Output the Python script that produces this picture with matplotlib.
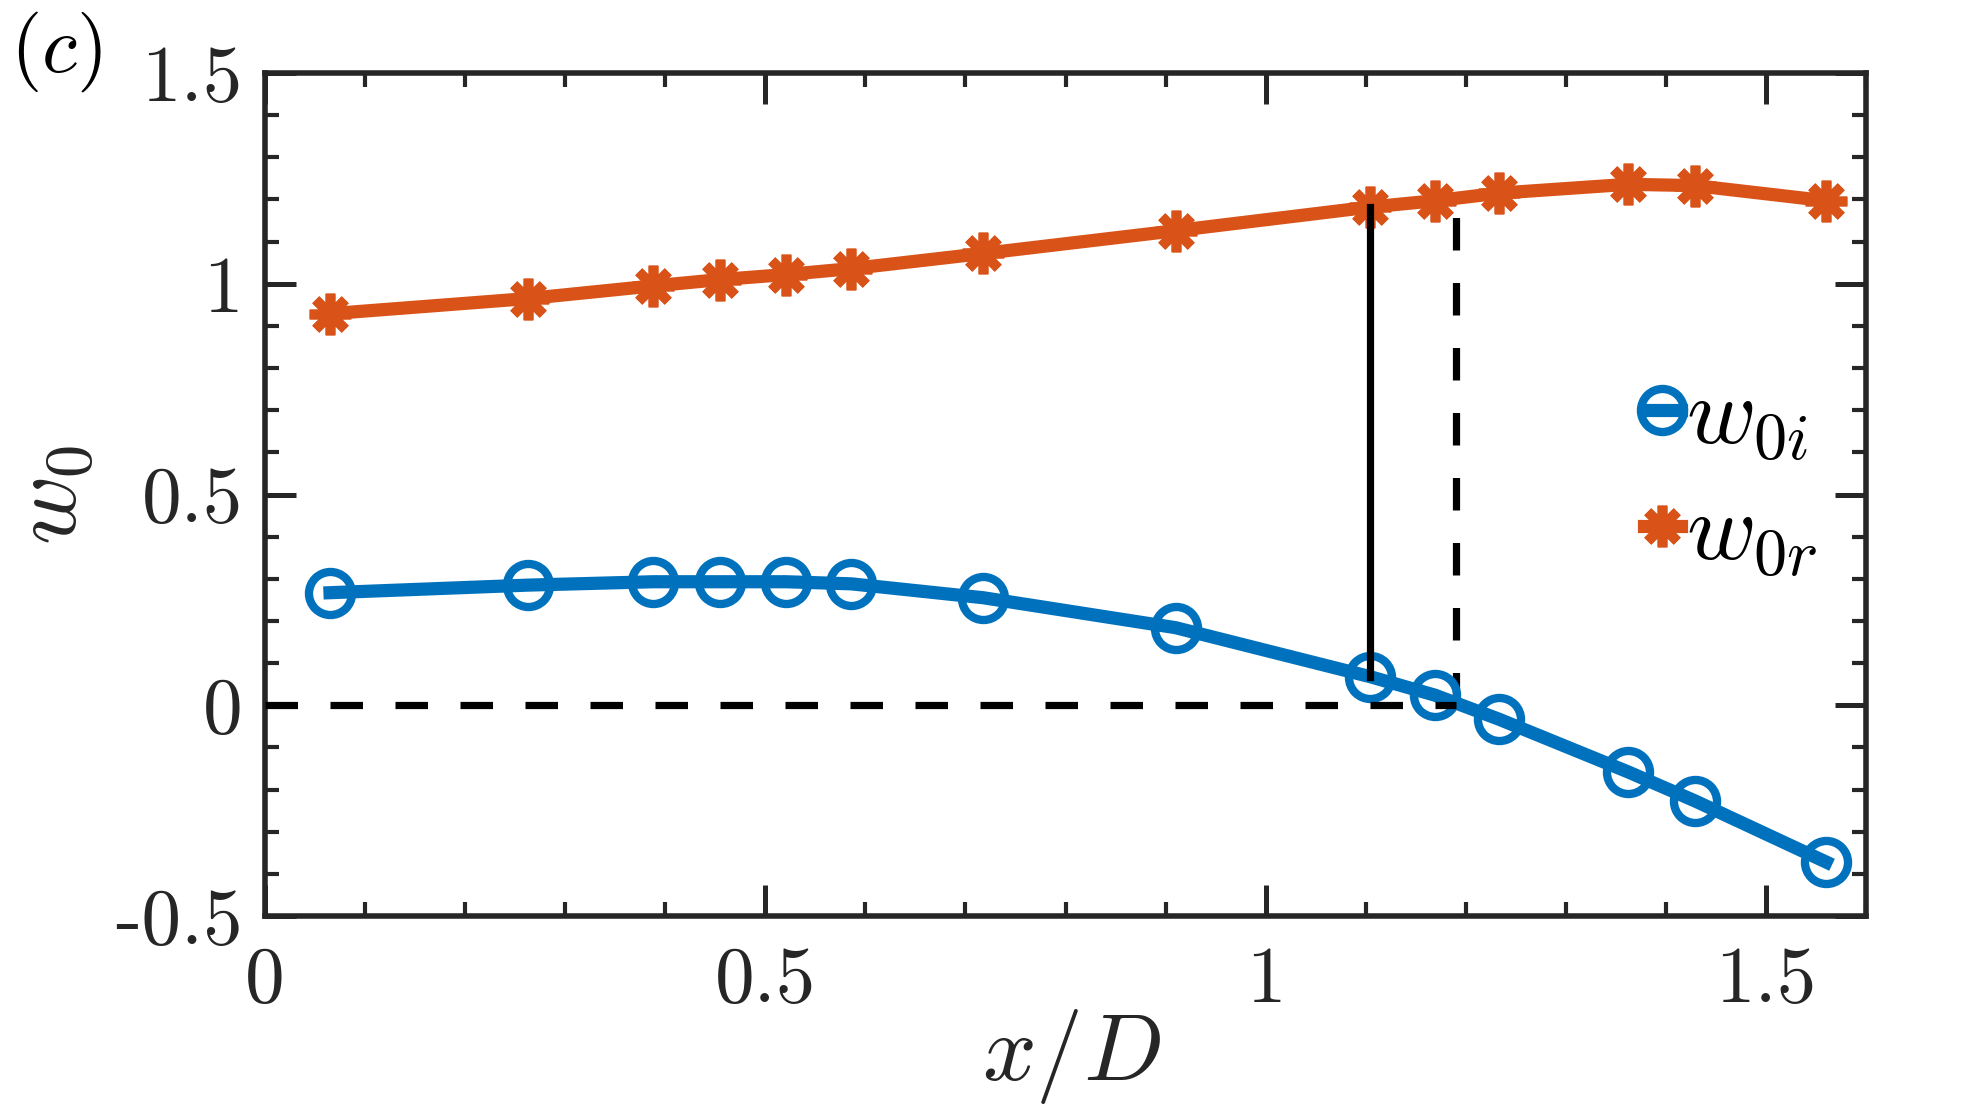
import numpy as np
import matplotlib
matplotlib.use("Agg")
import matplotlib.pyplot as plt
from matplotlib.ticker import MultipleLocator

plt.rcParams['mathtext.fontset'] = 'cm'
plt.rcParams['axes.unicode_minus'] = False

# 数据
x_d = [0.065, 0.263, 0.388, 0.455, 0.521, 0.586, 0.718, 0.910,
       1.104, 1.169, 1.233, 1.362, 1.429, 1.560]
w0i = [0.267, 0.285, 0.293, 0.293, 0.293, 0.288, 0.255, 0.184,
       0.068, 0.024, -0.033, -0.158, -0.227, -0.372]
w0r = [0.929, 0.965, 0.995, 1.010, 1.022, 1.036, 1.072, 1.126,
       1.182, 1.197, 1.215, 1.236, 1.233, 1.197]

x_solid = 1.104        # 实线位置
x_dash = 1.19          # 虚线位置
dash_top = 1.2

xticks = [0, 0.5, 1, 1.5]
xticklabels = ['0', '0.5', '1', '1.5']
yticks = [-0.5, 0, 0.5, 1, 1.5]
yticklabels = ['-0.5', '0', '0.5', '1', '1.5']

blue = '#0072BD'
orange = '#D95319'
axc = '#262626'

fig = plt.figure(figsize=(19.67, 11.12), dpi=100)
ax = fig.add_axes([0.1347, 0.1763, 0.9487 - 0.1347, 0.9343 - 0.1763])

ax.plot(x_d, w0i, '-o', color=blue, lw=9.5, ms=31, mew=6,
        mfc='none', mec=blue, label=r'$w_{0i}$', zorder=3)
ax.plot(x_d, w0r, '-', color=orange, lw=9.5, marker=(8, 2, 0), ms=30, mew=7,
        mec=orange, label=r'$w_{0r}$', zorder=3)

# 黑色辅助线
i_s = x_d.index(x_solid)
ax.plot([x_solid, x_solid], [w0i[i_s], w0r[i_s]], color='k', lw=5.2, zorder=4)
ax.plot([0, x_dash], [0, 0], color='k', lw=5.2, ls=(0, (4.5, 4.5)), zorder=4)
ax.plot([x_dash, x_dash], [0, dash_top], color='k', lw=5.2, ls=(0, (4.5, 4.5)), zorder=2)

ax.set_xlim(0, 1.6)
ax.set_ylim(-0.5, 1.5)
ax.set_xticks(xticks)
ax.set_xticklabels(xticklabels)
ax.set_yticks(yticks)
ax.set_yticklabels(yticklabels)
ax.xaxis.set_minor_locator(MultipleLocator(0.1))
ax.yaxis.set_minor_locator(MultipleLocator(0.1))

ax.tick_params(which='both', direction='in', top=True, right=True, colors=axc)
ax.tick_params(which='major', length=22, width=3.6)
ax.tick_params(which='minor', length=10, width=3.0)
ax.tick_params(axis='x', which='major', pad=22)
ax.tick_params(axis='y', which='major', pad=16)
for lab in ax.get_xticklabels() + ax.get_yticklabels():
    lab.set_fontfamily('cmr10')
    lab.set_fontsize(57)
    lab.set_color(axc)
for sp in ax.spines.values():
    sp.set_linewidth(4)
    sp.set_color(axc)

ax.set_xlabel(r'$x/D$', fontsize=68, color=axc)
ax.set_ylabel(r'$w_0$', fontsize=68, color=axc)
ax.xaxis.set_label_coords(0.504, -0.108)
ax.yaxis.set_label_coords(-0.1056, 0.5)

ax.legend(loc='center left', bbox_to_anchor=(0.861, 0.523), frameon=False,
          fontsize=68, handlelength=0.4, handletextpad=0.05, borderpad=0,
          borderaxespad=0, labelspacing=0.25)

fig.text(56 / 1967, 1 - 52 / 1112, r'$(c)$', ha='center', va='center', fontsize=58)

plt.savefig('out.png', dpi=100)
